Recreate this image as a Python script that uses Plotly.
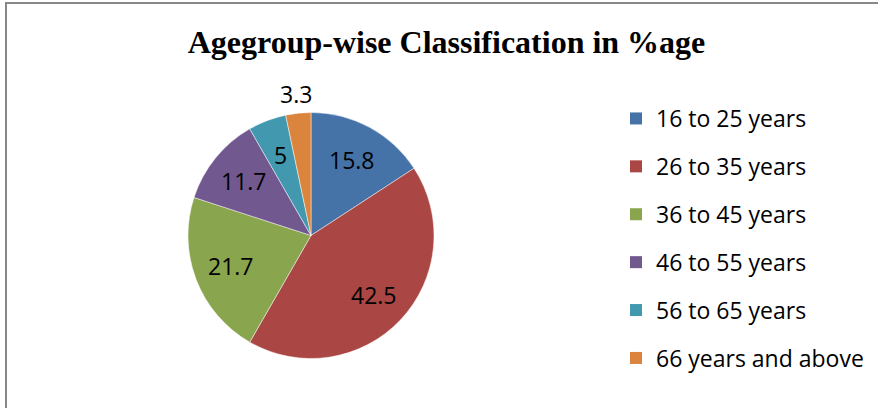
import math
import plotly.graph_objects as go

categories = ["16 to 25 years", "26 to 35 years", "36 to 45 years",
              "46 to 55 years", "56 to 65 years", "66 years and above"]
values = [15.8, 42.5, 21.7, 11.7, 5, 3.3]
colors = ["#4572A7", "#AA4643", "#89A54E", "#71588F", "#4198AF", "#DB843D"]
label_outside = [False, False, False, False, False, True]

W, H = 878, 408
cx, cy, r = 311, 235.5, 123
FONT = "Open Sans"

fig = go.Figure()
fig.add_trace(go.Pie(
    labels=categories,
    values=values,
    marker=dict(colors=colors, line=dict(color="rgba(255,255,255,0.6)", width=0.8)),
    sort=False,
    direction="clockwise",
    rotation=0,
    textinfo="none",
    showlegend=False,
    domain=dict(x=[(cx - r) / W, (cx + r) / W], y=[1 - (cy + r) / H, 1 - (cy - r) / H]),
    hoverinfo="label+value",
))

# legend entries (one group each so the rows can be spaced like the original)
for i, (cat, col) in enumerate(zip(categories, colors)):
    fig.add_trace(go.Scatter(
        x=[None], y=[None], mode="markers", name=cat,
        marker=dict(symbol="square", size=12, color=col),
        legendgroup=f"g{i}", showlegend=True, hoverinfo="skip",
    ))

# data labels along each slice's mid-angle (as Excel places them)
total = sum(values)
annotations = []
cum = 0.0
for v, outside in zip(values, label_outside):
    mid = (cum + v / 2) / total * 2 * math.pi
    cum += v
    rr = r * (1.16 if outside else 0.70)
    px = cx + rr * math.sin(mid)
    py = cy - rr * math.cos(mid)
    annotations.append(dict(
        x=px / W, y=1 - py / H, xref="paper", yref="paper",
        text=f"{v:g}", showarrow=False, xanchor="center", yanchor="middle",
        font=dict(family=FONT, size=23, color="black"),
    ))

fig.update_layout(
    width=W, height=H,
    margin=dict(l=0, r=0, t=0, b=0),
    paper_bgcolor="white",
    plot_bgcolor="white",
    xaxis=dict(visible=False),
    yaxis=dict(visible=False),
    title=dict(text="<b>Agegroup-wise Classification in %age</b>",
               font=dict(family="Liberation Serif", size=32, color="black"),
               x=446.5 / W, xanchor="center", y=1 - 42 / H, yanchor="middle"),
    legend=dict(x=616 / W, y=1 - 97 / H, xanchor="left", yanchor="top",
                font=dict(family=FONT, size=23, color="black"),
                itemwidth=30, tracegroupgap=15, bgcolor="rgba(0,0,0,0)"),
    annotations=annotations,
    shapes=[dict(type="path", xref="paper", yref="paper",
                 path=f"M {6/W} -0.05 L {6/W} {1-3/H} L 1.05 {1-3/H}",
                 line=dict(color="#888888", width=2))],
)

fig.write_html("out.html",
               config={"displayModeBar": False},
               post_script="document.body.style.margin='0';document.body.style.padding='0';")
